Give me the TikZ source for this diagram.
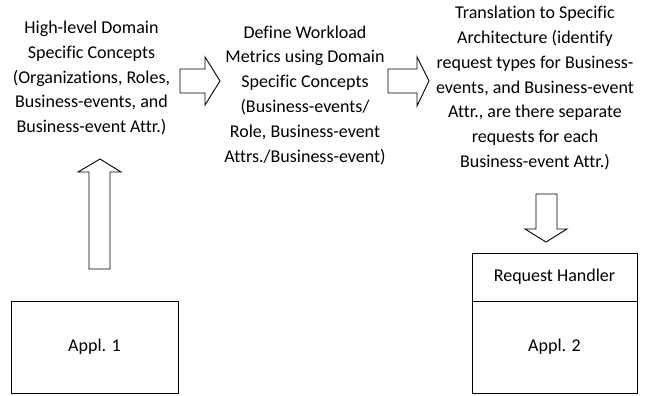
\documentclass[tikz,border=0pt]{standalone}
\usepackage{fontspec}
\setmainfont[Ligatures=NoCommon]{Carlito}
\begin{document}
\begin{tikzpicture}[x=1pt,y=-1pt,
  lbl/.style={align=center,font=\fontsize{18}{24.8}\selectfont,inner sep=0pt},
  blk/.style={draw=black,line width=0.9pt,fill=white},
  barrow/.style={draw=black,line width=0.9pt,line join=miter}]
\useasboundingbox (0,0) rectangle (646,396);
% text blocks
\node[lbl] (t1) at (91.5,78) {High-level Domain\\Specific Concepts\\(Organizations, Roles,\\Business-events, and\\Business-event Attr.)};
\node[lbl] (t2) at (305,95) {Define Workload\\Metrics using Domain\\Specific Concepts\\(Business-events/\\Role, Business-event\\Attrs./Business-event)};
\node[lbl] (t3) at (535,88) {Translation to Specific\\Architecture (identify\\request types for Business-\\events, and Business-event\\Attr., are there separate\\requests for each\\Business-event Attr.)};
% boxes
\draw[blk] (11,301) rectangle (178,393);
\node[lbl] (a1) at (94.5,347) {Appl. 1};
\draw[blk] (472,253) rectangle (637,393);
\draw[blk] (472,301) -- (637,301);
\node[lbl] (rh) at (554.5,277) {Request Handler};
\node[lbl] (a2) at (554.5,347) {Appl. 2};
% block arrows
\draw[barrow] (180,69) -- (205,69) -- (205,57) -- (220,81) -- (205,105) -- (205,93) -- (180,93) -- cycle;
\draw[barrow] (388,69) -- (417,69) -- (417,57) -- (429,81) -- (417,106) -- (417,93) -- (388,93) -- cycle;
\draw[barrow] (89,269) -- (89,172) -- (78,172) -- (100,159) -- (121,172) -- (110,172) -- (110,269) -- cycle;
\draw[barrow] (536,194) -- (557,194) -- (557,229) -- (567,229) -- (546,242) -- (525,229) -- (536,229) -- cycle;
\end{tikzpicture}
\end{document}
